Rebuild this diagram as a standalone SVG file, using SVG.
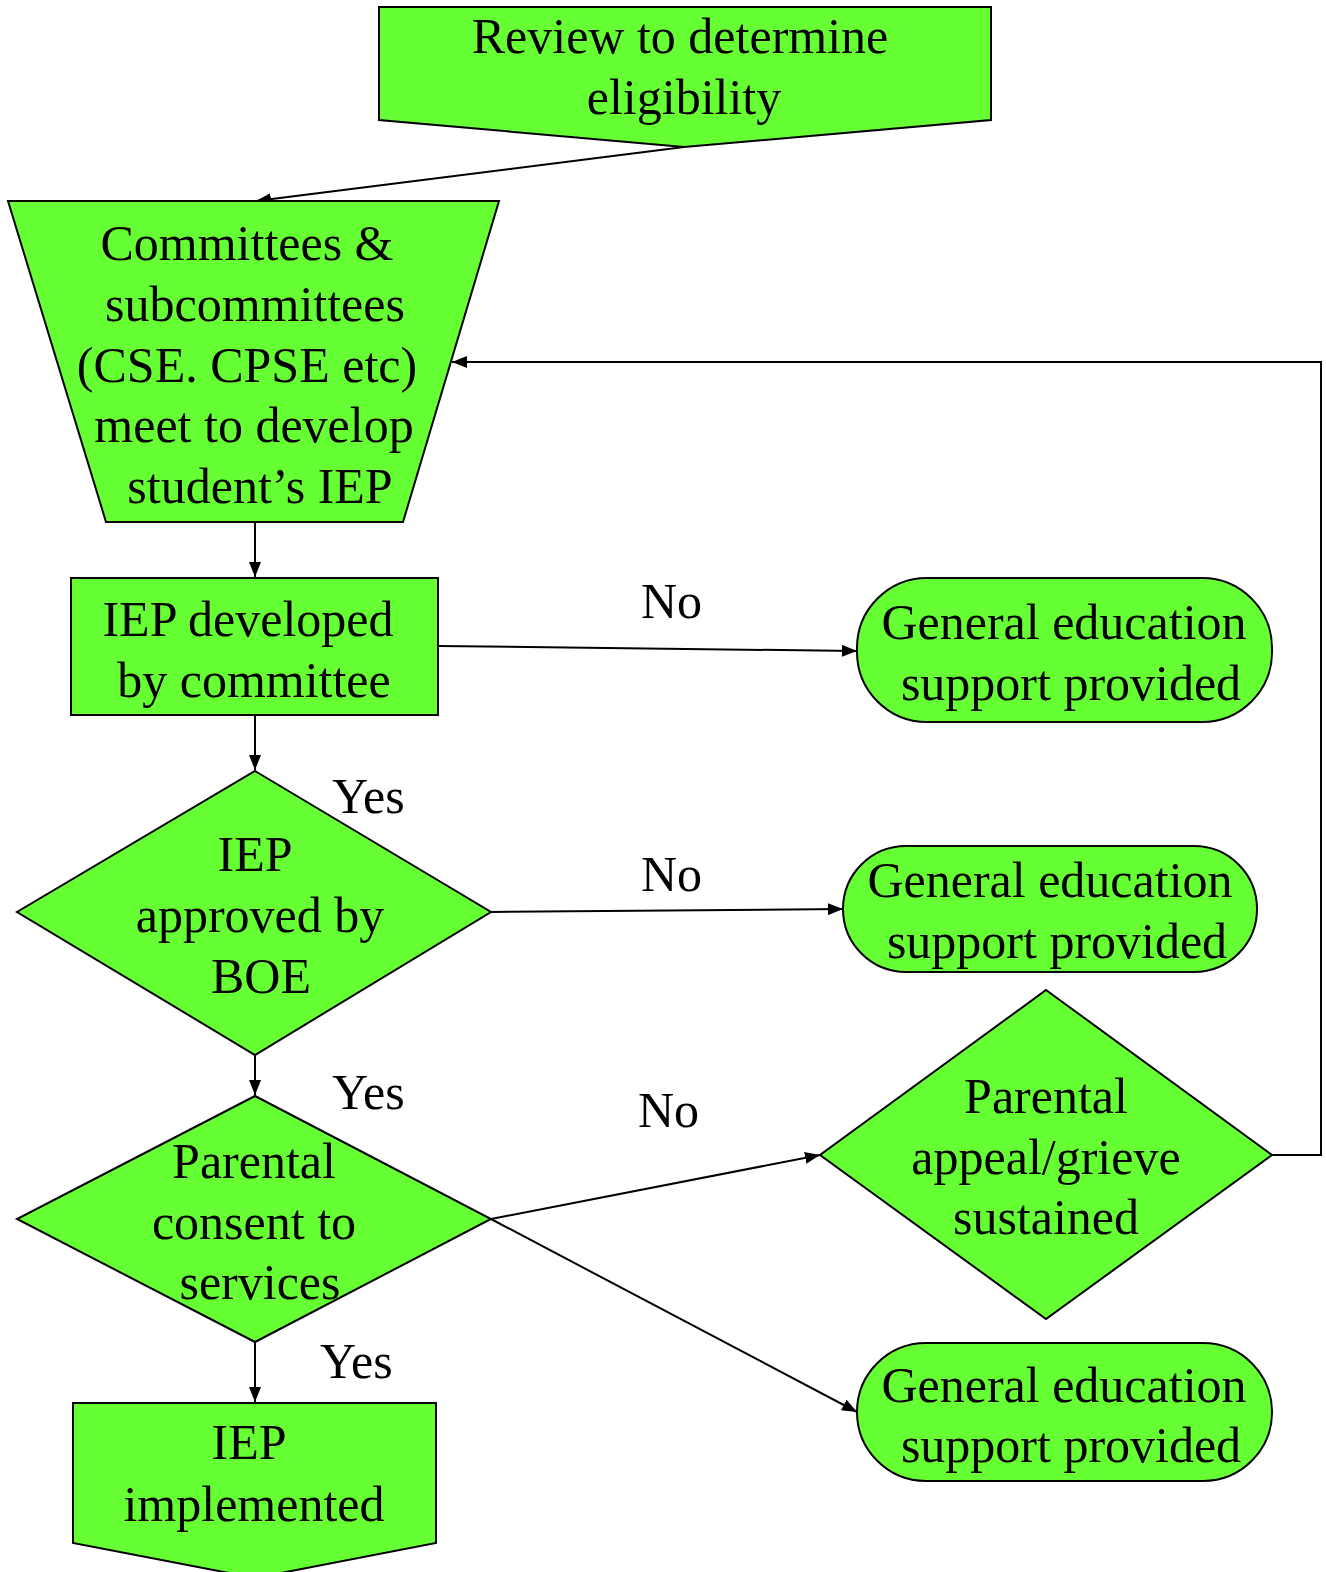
<svg xmlns="http://www.w3.org/2000/svg" width="1326" height="1572" viewBox="0 0 1326 1572">
<style>
.n{fill:#66FF33;stroke:#000;stroke-width:2}
.t{font-family:"Liberation Serif","Times New Roman",serif;font-size:50px;fill:#000;text-anchor:middle}
.l{font-family:"Liberation Serif","Times New Roman",serif;font-size:50px;fill:#000}
.c{fill:none;stroke:#000;stroke-width:2}
</style>
<defs>
<marker id="a" viewBox="0 0 15 12" refX="15" refY="6" markerWidth="15" markerHeight="12" markerUnits="userSpaceOnUse" orient="auto">
<path d="M0,0 L15,6 L0,12 Z" fill="#000"/>
</marker>
</defs>
<g id="connectors">
<line class="c" x1="684" y1="147" x2="256" y2="201" marker-end="url(#a)"/>
<line class="c" x1="255" y1="522" x2="255" y2="577" marker-end="url(#a)"/>
<line class="c" x1="438" y1="646" x2="857" y2="651" marker-end="url(#a)"/>
<line class="c" x1="255" y1="715" x2="255" y2="770" marker-end="url(#a)"/>
<line class="c" x1="491" y1="912" x2="843" y2="909" marker-end="url(#a)"/>
<line class="c" x1="255" y1="1055" x2="255" y2="1095" marker-end="url(#a)"/>
<line class="c" x1="491" y1="1219" x2="820" y2="1155" marker-end="url(#a)"/>
<line class="c" x1="491" y1="1219" x2="857" y2="1412" marker-end="url(#a)"/>
<line class="c" x1="255" y1="1342" x2="255" y2="1402" marker-end="url(#a)"/>
<polyline class="c" points="1272,1155 1321,1155 1321,362 452,362" marker-end="url(#a)"/>
<text class="l" x="641" y="618">No</text>
<text class="l" x="641" y="891">No</text>
<text class="l" x="638" y="1127">No</text>
<text class="l" x="332" y="813">Yes</text>
<text class="l" x="332" y="1109">Yes</text>
<text class="l" x="320" y="1378">Yes</text>
</g>
<g id="review">
<polygon class="n" points="379,7 991,7 991,120 684,147 379,120"/>
<text class="t" x="680" y="53">Review to determine</text>
<text class="t" x="684" y="114">eligibility</text>
</g>
<g id="committees">
<polygon class="n" points="8,201 499,201 403,522 106,522"/>
<text class="t" x="247" y="260">Committees &amp;</text>
<text class="t" x="255" y="321">subcommittees</text>
<text class="t" x="247" y="382">(CSE. CPSE etc)</text>
<text class="t" x="254" y="442">meet to develop</text>
<text class="t" x="260" y="503">student’s IEP</text>
</g>
<g id="iep-developed">
<rect class="n" x="71" y="578" width="367" height="137"/>
<text class="t" x="248" y="636">IEP developed</text>
<text class="t" x="254" y="697">by committee</text>
</g>
<g id="gen-ed-1">
<rect class="n" x="857" y="578" width="415" height="144" rx="70" ry="70"/>
<text class="t" x="1064" y="639">General education</text>
<text class="t" x="1071" y="700">support provided</text>
</g>
<g id="boe">
<polygon class="n" points="255,771 491,912 255,1055 17,912"/>
<text class="t" x="255" y="871">IEP</text>
<text class="t" x="260" y="932">approved by</text>
<text class="t" x="261" y="993">BOE</text>
</g>
<g id="gen-ed-2">
<rect class="n" x="843" y="846" width="414" height="126" rx="63" ry="63"/>
<text class="t" x="1050" y="897">General education</text>
<text class="t" x="1057" y="958">support provided</text>
</g>
<g id="consent">
<polygon class="n" points="255,1096 491,1219 255,1342 17,1219"/>
<text class="t" x="254" y="1178">Parental</text>
<text class="t" x="254" y="1239">consent to</text>
<text class="t" x="260" y="1299">services</text>
</g>
<g id="appeal">
<polygon class="n" points="1046,990 1272,1155 1046,1319 820,1155"/>
<text class="t" x="1046" y="1113">Parental</text>
<text class="t" x="1046" y="1174">appeal/grieve</text>
<text class="t" x="1046" y="1234">sustained</text>
</g>
<g id="gen-ed-3">
<rect class="n" x="857" y="1343" width="415" height="138" rx="69" ry="69"/>
<text class="t" x="1064" y="1402">General education</text>
<text class="t" x="1071" y="1462">support provided</text>
</g>
<g id="implemented">
<polygon class="n" points="73,1403 436,1403 436,1543 255,1578 73,1543"/>
<text class="t" x="249" y="1459">IEP</text>
<text class="t" x="254" y="1521">implemented</text>
</g>
</svg>
